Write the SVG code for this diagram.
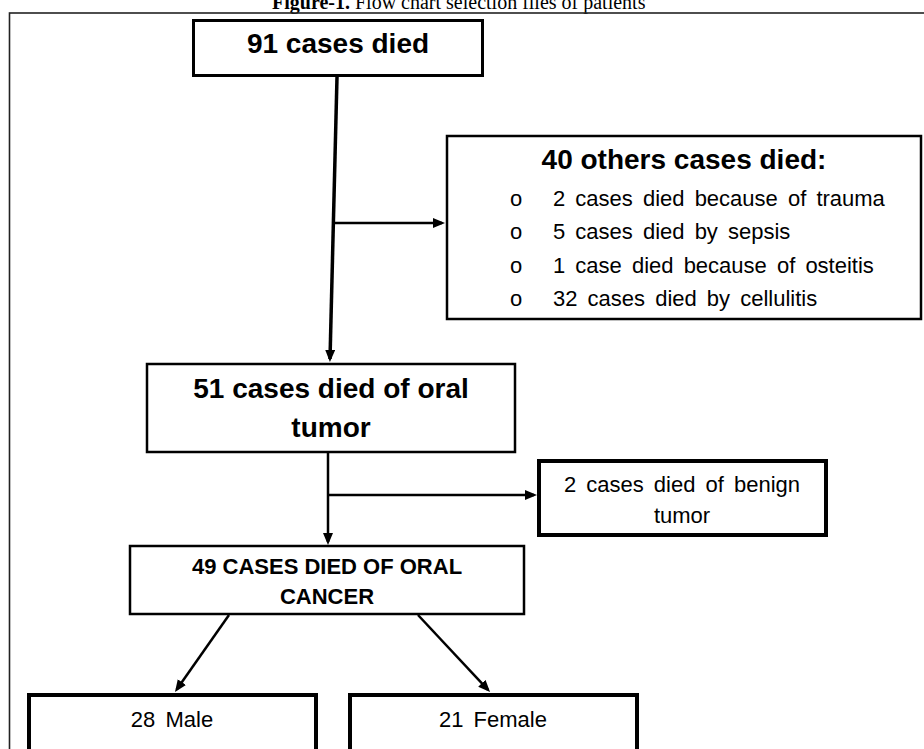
<svg xmlns="http://www.w3.org/2000/svg" width="924" height="749" viewBox="0 0 924 749">
<style>
.box{fill:#fff;stroke:#000}
.b{font-family:"Liberation Sans",Arial,sans-serif;font-weight:bold;fill:#000}
.r{font-family:"Liberation Sans",Arial,sans-serif;fill:#000;word-spacing:4px}
.c{stroke:#000;fill:none}
</style>
<defs>
<marker id="ah" markerUnits="userSpaceOnUse" markerWidth="13" markerHeight="11" refX="9" refY="5" orient="auto">
<path d="M0,0 L12,5 L0,10 z" fill="#000"/>
</marker>
</defs>
<rect width="924" height="749" fill="#fff"/>
<text x="272" y="9" font-family="'Liberation Serif','Times New Roman',serif" font-size="20" fill="#000"><tspan font-weight="bold">Figure-1.</tspan> Flow chart selection files of patients</text>
<rect x="9.5" y="13" width="930" height="760" fill="none" stroke="#222" stroke-width="1.6"/>

<g id="connectors">
<line class="c" x1="337" y1="77" x2="330" y2="359" stroke-width="3.5" marker-end="url(#ah)"/>
<line class="c" x1="335" y1="223" x2="442" y2="223" stroke-width="2.5" marker-end="url(#ah)"/>
<line class="c" x1="328" y1="453" x2="328" y2="542" stroke-width="2.5" marker-end="url(#ah)"/>
<line class="c" x1="328" y1="495" x2="534" y2="495" stroke-width="2.5" marker-end="url(#ah)"/>
<line class="c" x1="229" y1="615" x2="176.7" y2="689.5" stroke-width="2.5" marker-end="url(#ah)"/>
<line class="c" x1="418" y1="615" x2="488" y2="689.8" stroke-width="2.5" marker-end="url(#ah)"/>
</g>

<g id="node-91">
<rect class="box" x="193.5" y="20.5" width="289" height="55" stroke-width="3"/>
<text class="b" x="338" y="53" font-size="28" text-anchor="middle">91 cases died</text>
</g>

<g id="node-40">
<rect class="box" x="447" y="136" width="474" height="183" stroke-width="2.5"/>
<text class="b" x="684" y="169" font-size="28" text-anchor="middle">40 others cases died:</text>
<g class="r" font-size="22">
<text x="510" y="206">o</text><text x="553" y="206">2 cases died because of trauma</text>
<text x="510" y="239">o</text><text x="553" y="239">5 cases died by sepsis</text>
<text x="510" y="273">o</text><text x="553" y="273">1 case died because of osteitis</text>
<text x="510" y="306">o</text><text x="553" y="306">32 cases died by cellulitis</text>
</g>
</g>

<g id="node-51">
<rect class="box" x="147" y="364" width="368" height="88" stroke-width="2.5"/>
<text class="b" x="331" y="398" font-size="28" text-anchor="middle">51 cases died of oral</text>
<text class="b" x="331" y="437" font-size="28" text-anchor="middle">tumor</text>
</g>

<g id="node-benign">
<rect class="box" x="539" y="461" width="287" height="74" stroke-width="4"/>
<text class="r" x="682" y="492" font-size="22" text-anchor="middle">2 cases died of benign</text>
<text class="r" x="682" y="523" font-size="22" text-anchor="middle">tumor</text>
</g>

<g id="node-49">
<rect class="box" x="130" y="546" width="394" height="68" stroke-width="2.5"/>
<text class="b" x="327" y="574" font-size="22" text-anchor="middle">49 CASES DIED OF ORAL</text>
<text class="b" x="327" y="604" font-size="22" text-anchor="middle">CANCER</text>
</g>

<g id="node-male">
<rect class="box" x="29" y="695" width="287" height="70" stroke-width="4"/>
<text class="r" x="172" y="727" font-size="22" text-anchor="middle">28 Male</text>
</g>

<g id="node-female">
<rect class="box" x="350" y="695" width="287" height="70" stroke-width="4"/>
<text class="r" x="493" y="727" font-size="22" text-anchor="middle">21 Female</text>
</g>
</svg>
